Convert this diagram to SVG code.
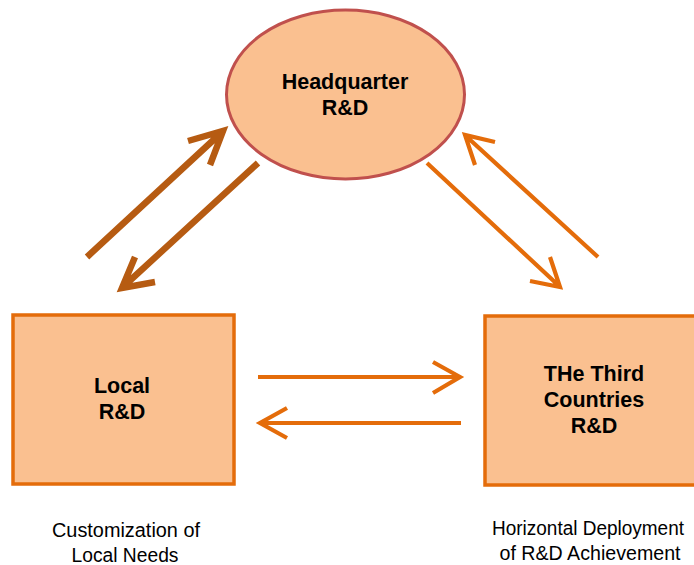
<svg xmlns="http://www.w3.org/2000/svg" width="694" height="565" viewBox="0 0 694 565">
<style>
.node{fill:#fac090}
.box{stroke:#e46c0a;stroke-width:3.5}
.ell{stroke:#c0504d;stroke-width:3}
.lbl{font-family:"Liberation Sans",Arial,sans-serif;font-weight:bold;font-size:21.5px;fill:#000;text-anchor:middle}
.cap{font-family:"Liberation Sans",Arial,sans-serif;font-size:20px;fill:#000;text-anchor:middle}
.dk{fill:none;stroke:#b65b12;stroke-width:6.5;stroke-linejoin:miter}
.lt{fill:none;stroke:#e46c0a;stroke-width:4.2;stroke-linejoin:miter}
</style>
<rect width="694" height="565" fill="#fff"/>
<g id="connectors">
<path class="dk" d="M87,257 L221,133 M188,141 L223,131 L210,165"/>
<path class="dk" d="M258,163 L124,286 M135,257 L122,288 L155,282"/>
<path class="lt" d="M427,163 L558,285 M550,257 L560,287 L530,281"/>
<path class="lt" d="M598,257 L467,137 M495,142 L465,135 L475,165"/>
<path class="lt" d="M258,377 L458,377 M433,362 L460,377 L433,393"/>
<path class="lt" d="M461,423 L262,423 M287,408 L260,423 L287,438"/>
</g>
<g id="hq">
<ellipse class="node ell" cx="345.5" cy="94.5" rx="119" ry="84.5"/>
<text class="lbl" x="345" y="89">Headquarter</text>
<text class="lbl" x="345" y="115">R&amp;D</text>
</g>
<g id="local">
<rect class="node box" x="13" y="315" width="221" height="169"/>
<text class="lbl" x="122" y="393">Local</text>
<text class="lbl" x="122" y="419">R&amp;D</text>
</g>
<g id="third">
<rect class="node box" x="485" y="316" width="220" height="169"/>
<text class="lbl" x="594" y="381">THe Third</text>
<text class="lbl" x="594" y="407">Countries</text>
<text class="lbl" x="594" y="433">R&amp;D</text>
</g>
<g id="captions">
<text class="cap" x="126" y="537" textLength="148" lengthAdjust="spacingAndGlyphs">Customization of</text>
<text class="cap" x="125" y="562" textLength="107" lengthAdjust="spacingAndGlyphs">Local Needs</text>
<text class="cap" x="588" y="535" textLength="192" lengthAdjust="spacingAndGlyphs">Horizontal Deployment</text>
<text class="cap" x="590" y="560" textLength="181" lengthAdjust="spacingAndGlyphs">of R&amp;D Achievement</text>
</g>
</svg>
